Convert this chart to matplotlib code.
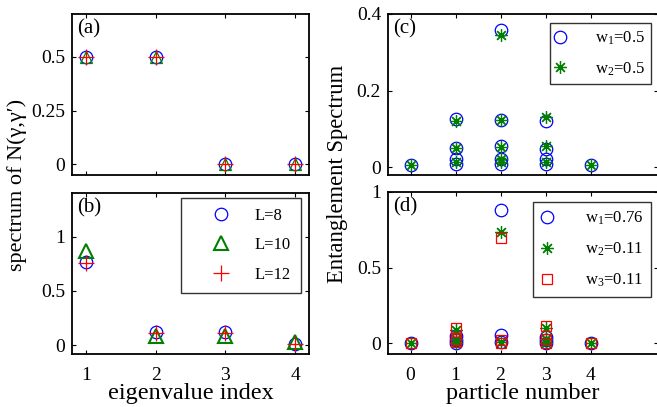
import numpy as np
import matplotlib
matplotlib.use('Agg')
import matplotlib.pyplot as plt

plt.rcParams['font.family'] = ['Liberation Serif', 'DejaVu Serif']
plt.rcParams['mathtext.fontset'] = 'custom'
plt.rcParams['mathtext.rm'] = 'Liberation Serif'
plt.rcParams['mathtext.it'] = 'Liberation Serif:italic'
plt.rcParams['xtick.direction'] = 'in'
plt.rcParams['ytick.direction'] = 'in'
plt.rcParams['xtick.top'] = True
plt.rcParams['ytick.right'] = True

# ---- data ----
eig_idx = [1, 2, 3, 4]
a_L8 = [0.5, 0.5, 0.0, 0.0]
a_L10 = [0.5, 0.5, 0.0, 0.0]
a_L12 = [0.5, 0.5, 0.0, 0.0]

b_L8 = [0.77, 0.12, 0.12, 0.015]
b_L10 = [0.87, 0.085, 0.085, 0.03]
b_L12 = [0.76, 0.11, 0.11, 0.01]
legend_L = ['L=8', 'L=10', 'L=12']

c_w1_x = [0, 1, 1, 1, 1, 2, 2, 2, 2, 2, 3, 3, 3, 3, 4]
c_w1_y = [0.007, 0.126, 0.05, 0.023, 0.008, 0.357, 0.124, 0.056, 0.023, 0.009,
          0.121, 0.047, 0.023, 0.008, 0.007]
c_w2_x = [0, 1, 1, 1, 2, 2, 2, 2, 2, 3, 3, 3, 4]
c_w2_y = [0.007, 0.122, 0.05, 0.015, 0.345, 0.124, 0.054, 0.023, 0.013,
          0.131, 0.055, 0.015, 0.007]
legend_c = ['w$_1$=0.5', 'w$_2$=0.5']

d_w1_x = [0, 1, 1, 1, 2, 2, 2, 3, 3, 3, 4]
d_w1_y = [0.002, 0.05, 0.02, 0.005, 0.884, 0.055, 0.01, 0.044, 0.02, 0.005, 0.002]
d_w2_x = [0, 1, 1, 1, 2, 2, 3, 3, 3, 4]
d_w2_y = [0.002, 0.09, 0.03, 0.005, 0.735, 0.01, 0.105, 0.03, 0.005, 0.002]
d_w3_x = [0, 1, 1, 1, 2, 2, 2, 3, 3, 3, 4]
d_w3_y = [0.002, 0.1, 0.03, 0.01, 0.695, 0.02, 0.005, 0.116, 0.03, 0.005, 0.002]
legend_d = ['w$_1$=0.76', 'w$_2$=0.11', 'w$_3$=0.11']

BLUE = '#0000ff'
GREEN = '#008000'
RED = '#ff0000'
asterisk = (8, 2, 0)

fig = plt.figure(figsize=(6.57, 4.07), dpi=100)
W, H = 657.0, 407.0


def box(x0, y0, x1, y1):
    return [x0 / W, 1 - y1 / H, (x1 - x0) / W, (y1 - y0) / H]


ax_a = fig.add_axes(box(72, 14, 309, 175))
ax_b = fig.add_axes(box(72, 193, 309, 354))
ax_c = fig.add_axes(box(388, 14, 658, 175))
ax_d = fig.add_axes(box(388, 192, 658, 354))

for ax in (ax_a, ax_b, ax_c, ax_d):
    for sp in ax.spines.values():
        sp.set_linewidth(1.3)
    ax.tick_params(labelsize=14, length=3, width=0.8)
    ax.tick_params(axis='y', pad=5)
    ax.tick_params(axis='x', pad=9)

ms_kw = dict(linestyle='none', markerfacecolor='none', markeredgewidth=0.9)

# (a)
ax_a.plot(eig_idx, a_L8, marker='o', markersize=9, markeredgecolor=BLUE, **ms_kw)
ax_a.plot(eig_idx, a_L10, marker='^', markersize=9, markeredgecolor=GREEN, **ms_kw)
ax_a.plot(eig_idx, a_L12, marker='+', markersize=11, markeredgecolor=RED, **ms_kw)
ax_a.set_xlim(0.8, 4.2)
ax_a.set_ylim(-0.05, 0.7)
ax_a.set_xticks(eig_idx)
ax_a.set_xticklabels([])
ax_a.set_yticks([0, 0.25, 0.5])
ax_a.set_yticklabels(['0', '0.25', '0.5'])
ax_a.text(0.02, 0.97, '(a)', transform=ax_a.transAxes, va='top', ha='left', fontsize=15)

# (b)
hb1, = ax_b.plot(eig_idx, b_L8, marker='o', markersize=9, markeredgecolor=BLUE, **ms_kw)
hb2, = ax_b.plot(eig_idx, b_L10, marker='^', markersize=10, markeredgecolor=GREEN,
                 linestyle='none', markerfacecolor='none', markeredgewidth=1.5)
hb3, = ax_b.plot(eig_idx, b_L12, marker='+', markersize=12, markeredgecolor=RED, **ms_kw)
ax_b.set_xlim(0.8, 4.2)
ax_b.set_ylim(-0.08, 1.4)
ax_b.set_xticks(eig_idx)
ax_b.set_yticks([0, 0.5, 1])
ax_b.set_yticklabels(['0', '0.5', '1'])
ax_b.text(0.02, 0.97, '(b)', transform=ax_b.transAxes, va='top', ha='left', fontsize=15)
leg = ax_b.legend([hb1, hb2, hb3], legend_L, loc='upper right', fontsize=12,
                  frameon=True, fancybox=False, edgecolor='black', handlelength=3.6,
                  handletextpad=0.25, labelspacing=0.8, borderpad=0.6,
                  borderaxespad=0.2, bbox_to_anchor=(0.98, 0.99))
leg.get_frame().set_linewidth(1.0)
ax_b.set_xlabel('eigenvalue index', fontsize=17.5, labelpad=0)

# (c)
hc1, = ax_c.plot(c_w1_x, c_w1_y, marker='o', markersize=9, markeredgecolor=BLUE, **ms_kw)
hc2, = ax_c.plot(c_w2_x, c_w2_y, marker=asterisk, markersize=9, markeredgecolor=GREEN,
                 linestyle='none', markeredgewidth=0.9)
ax_c.set_xlim(-0.5, 5.5)
ax_c.set_ylim(-0.02, 0.4)
ax_c.set_xticks([0, 1, 2, 3, 4])
ax_c.set_xticklabels([])
ax_c.set_yticks([0, 0.2, 0.4])
ax_c.set_yticklabels(['0', '0.2', '0.4'])
ax_c.text(0.02, 0.97, '(c)', transform=ax_c.transAxes, va='top', ha='left', fontsize=15)
leg = ax_c.legend([hc1, hc2], legend_c, loc='upper right', fontsize=12,
                  frameon=True, fancybox=False, edgecolor='black', handlelength=0.4,
                  handletextpad=1.85, labelspacing=0.8, borderpad=0.4,
                  bbox_to_anchor=(0.975, 0.945), borderaxespad=0)
leg.get_frame().set_linewidth(1.0)

# (d)
hd1, = ax_d.plot(d_w1_x, d_w1_y, marker='o', markersize=9, markeredgecolor=BLUE, **ms_kw)
hd2, = ax_d.plot(d_w2_x, d_w2_y, marker=asterisk, markersize=9, markeredgecolor=GREEN,
                 linestyle='none', markeredgewidth=0.9)
hd3, = ax_d.plot(d_w3_x, d_w3_y, marker='s', markersize=7, markeredgecolor=RED, **ms_kw)
ax_d.set_xlim(-0.5, 5.5)
ax_d.set_ylim(-0.07, 1.0)
ax_d.set_xticks([0, 1, 2, 3, 4])
ax_d.set_yticks([0, 0.5, 1])
ax_d.set_yticklabels(['0', '0.5', '1'])
ax_d.text(0.02, 0.97, '(d)', transform=ax_d.transAxes, va='top', ha='left', fontsize=15)
leg = ax_d.legend([hd1, hd2, hd3], legend_d, loc='upper right', fontsize=12,
                  frameon=True, fancybox=False, edgecolor='black', handlelength=0.7,
                  handletextpad=1.9, labelspacing=0.8, borderpad=0.5,
                  bbox_to_anchor=(0.975, 0.94), borderaxespad=0)
leg.get_frame().set_linewidth(1.0)
ax_d.set_xlabel('particle number', fontsize=17.5, labelpad=0)

fig.text(17 / W, 1 - 185 / H, 'spectrum of N(γ,γ′)', rotation=90, fontsize=16,
         ha='center', va='center')
fig.text(338 / W, 1 - 174 / H, 'Entanglement Spectrum', rotation=90, fontsize=16.3,
         ha='center', va='center')

fig.savefig('out.png', dpi=100)
